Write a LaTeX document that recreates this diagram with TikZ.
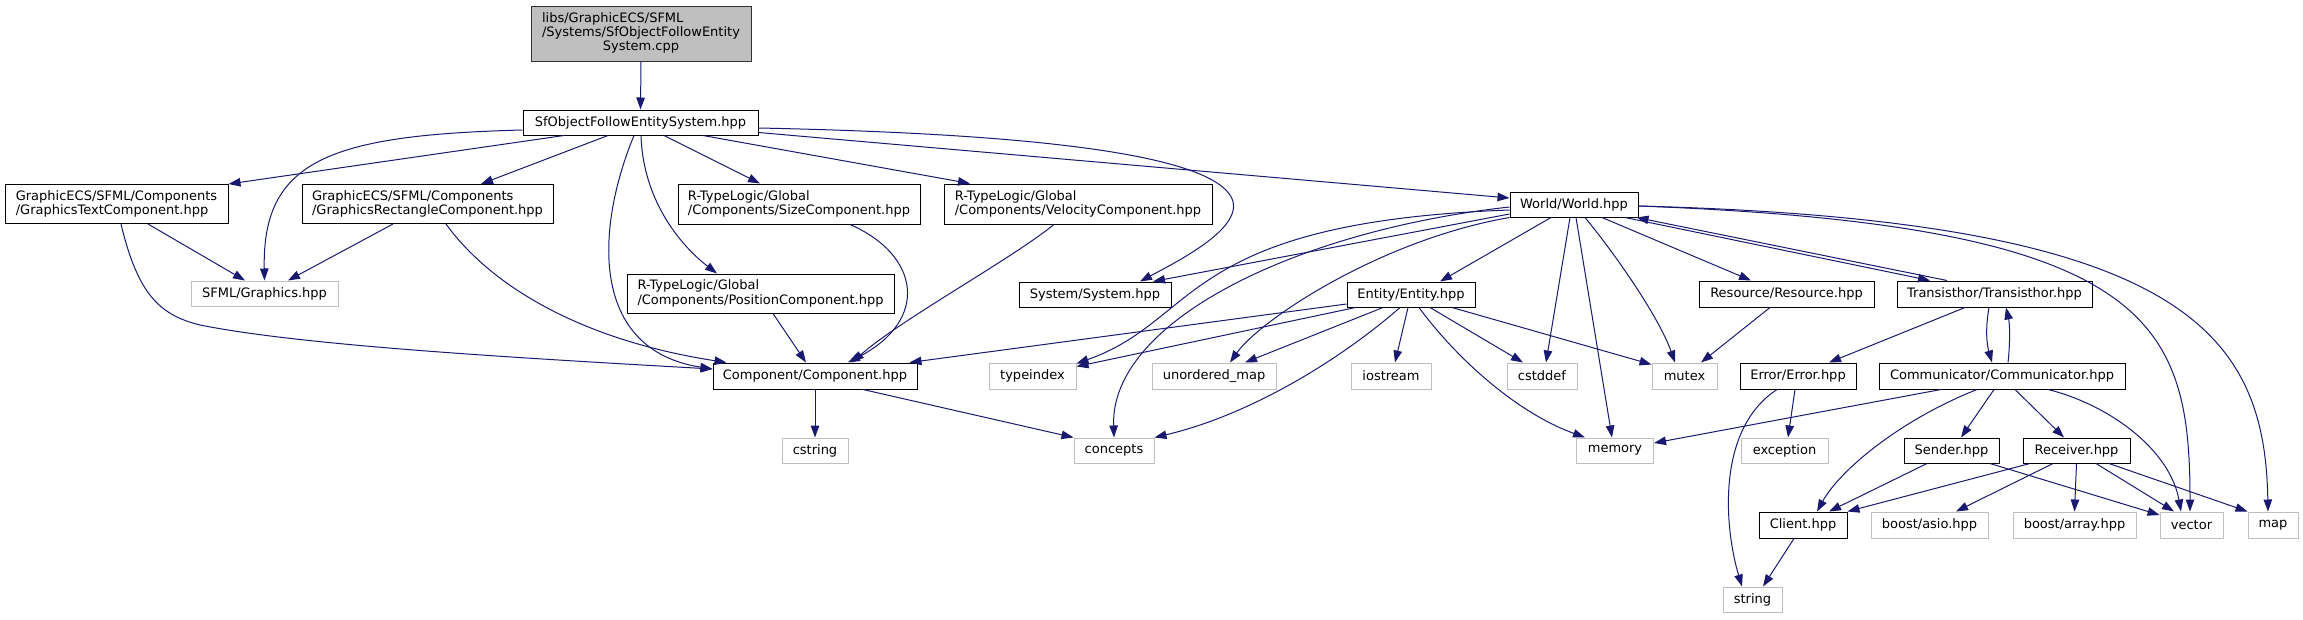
\documentclass[tikz,border=0pt]{standalone}
\usepackage{fontspec}
\setmainfont{DejaVu Sans}
\usepackage{xcolor}
\usepackage{tikz}
\usetikzlibrary{arrows.meta}

\definecolor{midnightblue}{HTML}{191970}
\newcommand{\doxfont}{\fontsize{13}{14.3}\selectfont}

\begin{document}
\begin{tikzpicture}[x=1pt, y=-1pt, >={Triangle[length=12pt, width=8.5pt]},
  incl/.style={draw=black, line width=1pt, fill=white, inner sep=3pt, font=\doxfont},
  stdh/.style={draw=black!25, line width=1pt, fill=white, inner sep=3pt, font=\doxfont},
  rootnode/.style={incl, fill=black!25, draw=black!80},
  dep/.style={->, midnightblue, line width=1pt}
]
  \useasboundingbox (0,0) rectangle (2303,619);

  % ======= nodes: project headers =======
  \node[rootnode, minimum width=220pt, minimum height=55pt] (root) at (641,33.5)
    {\begin{tabular}{@{}l@{}}libs/GraphicECS/SFML\\/Systems/SfObjectFollowEntity\\\multicolumn{1}{@{}c@{}}{System.cpp}\end{tabular}};
  \node[incl, minimum width=235pt, minimum height=25pt] (sfo) at (640.5,122.5) {SfObjectFollowEntitySystem.hpp};
  \node[incl, align=left, minimum width=223pt, minimum height=39pt] (gtc) at (116.5,204) {GraphicECS/SFML/Components\\/GraphicsTextComponent.hpp};
  \node[incl, align=left, minimum width=251pt, minimum height=39pt] (grc) at (427.5,204) {GraphicECS/SFML/Components\\/GraphicsRectangleComponent.hpp};
  \node[incl, align=left, minimum width=242pt, minimum height=40pt] (size) at (799,204) {R-TypeLogic/Global\\/Components/SizeComponent.hpp};
  \node[incl, align=left, minimum width=267pt, minimum height=39pt] (pos) at (760.5,293.5) {R-TypeLogic/Global\\/Components/PositionComponent.hpp};
  \node[incl, align=left, minimum width=268pt, minimum height=40pt] (vel) at (1078,204) {R-TypeLogic/Global\\/Components/VelocityComponent.hpp};
  \node[incl, minimum width=128pt, minimum height=25pt] (world) at (1574,204.5) {World/World.hpp};
  \node[incl, minimum width=152pt, minimum height=25pt] (system) at (1095,294.5) {System/System.hpp};
  \node[incl, minimum width=128pt, minimum height=25pt] (entity) at (1411,294.5) {Entity/Entity.hpp};
  \node[incl, minimum width=204pt, minimum height=26pt] (comp) at (815,376) {Component/Component.hpp};
  \node[incl, minimum width=175pt, minimum height=26pt] (resource) at (1786.5,294) {Resource/Resource.hpp};
  \node[incl, minimum width=195pt, minimum height=26pt] (trans) at (1994.5,294) {Transisthor/Transisthor.hpp};
  \node[incl, minimum width=116pt, minimum height=26pt] (error) at (1798,376) {Error/Error.hpp};
  \node[incl, minimum width=246pt, minimum height=26pt] (comm) at (2002,376) {Communicator/Communicator.hpp};
  \node[incl, minimum width=95pt, minimum height=25pt] (sender) at (1951.5,450.5) {Sender.hpp};
  \node[incl, minimum width=107pt, minimum height=25pt] (receiver) at (2076.5,450.5) {Receiver.hpp};
  \node[incl, minimum width=88pt, minimum height=26pt] (client) at (1803,525) {Client.hpp};

  % ======= nodes: system headers =======
  \node[stdh, minimum width=147pt, minimum height=25pt] (sfmlg) at (264.5,293.5) {SFML/Graphics.hpp};
  \node[stdh, minimum width=87pt, minimum height=26pt] (tidx) at (1032.5,376) {typeindex};
  \node[stdh, minimum width=124pt, minimum height=26pt] (umap) at (1214,376) {unordered\_map};
  \node[stdh, minimum width=80pt, minimum height=26pt] (iostr) at (1391,376) {iostream};
  \node[stdh, minimum width=70pt, minimum height=26pt] (cstddef) at (1542,376) {cstddef};
  \node[stdh, minimum width=65pt, minimum height=26pt] (mutex) at (1684.5,376) {mutex};
  \node[stdh, minimum width=66pt, minimum height=25pt] (cstring) at (815,450.5) {cstring};
  \node[stdh, minimum width=80pt, minimum height=25pt] (concepts) at (1114,450.5) {concepts};
  \node[stdh, minimum width=77pt, minimum height=25pt] (memory) at (1615,450.5) {memory};
  \node[stdh, minimum width=87pt, minimum height=25pt] (exception) at (1784.5,450.5) {exception};
  \node[stdh, minimum width=117pt, minimum height=26pt] (asio) at (1929.5,525) {boost/asio.hpp};
  \node[stdh, minimum width=123pt, minimum height=26pt] (array) at (2074.5,525) {boost/array.hpp};
  \node[stdh, minimum width=63pt, minimum height=26pt] (vector) at (2191.5,525) {vector};
  \node[stdh, minimum width=50pt, minimum height=26pt] (map) at (2273,525) {map};
  \node[stdh, minimum width=59pt, minimum height=25pt] (string) at (1752.5,599.5) {string};

  % ======= edges from the top =======
  \draw[dep] (root.south) -- (sfo.north);
  \draw[dep] ([xshift=-76.5pt]sfo.south) -- (gtc.north east);
  \draw[dep] ([yshift=-7.5pt]sfo.west) .. controls (330,135) and (262,160) .. (sfmlg.north);
  \draw[dep] ([xshift=-32.5pt]sfo.south) -- ([xshift=53.5pt]grc.north);
  \draw[dep] ([xshift=23.5pt]sfo.south) -- ([xshift=-39pt]size.north);
  \draw[dep] ([xshift=0.5pt]sfo.south) .. controls (643,200) and (680,245) .. ([xshift=-43.5pt]pos.north);
  \draw[dep] ([xshift=-6.5pt]sfo.south) .. controls (595,230) and (590,350) .. ([yshift=7pt]comp.west);
  \draw[dep] ([yshift=-5.5pt]sfo.east) .. controls (1000,133) and (1200,150) .. (1230,195)
    .. controls (1250,225) and (1180,260) .. ([xshift=45pt]system.north);
  \draw[dep] ([xshift=62.5pt]sfo.south) -- ([xshift=-108pt]vel.north);
  \draw[dep] ([yshift=-10pt]sfo.east) -- ([yshift=6.5pt]world.west);

  % components
  \draw[dep] ([xshift=31.5pt]gtc.south) -- ([xshift=-19.5pt]sfmlg.north);
  \draw[dep] ([xshift=4.5pt]gtc.south) .. controls (138,295) and (160,315) .. (200,325)
    .. controls (300,345) and (500,357) .. ([yshift=7pt]comp.west);
  \draw[dep] ([xshift=-34.5pt]grc.south) -- ([xshift=23.5pt]sfmlg.north);
  \draw[dep] ([xshift=18.5pt]grc.south) .. controls (490,285) and (580,340) .. ([xshift=14pt]comp.north west);
  \draw[dep] ([xshift=51pt]size.south) .. controls (920,255) and (930,320) .. ([xshift=33pt]comp.north);
  \draw[dep] ([xshift=-24pt]vel.south) .. controls (1010,260) and (900,320) .. ([xshift=37pt]comp.north);
  \draw[dep] ([xshift=12.5pt]pos.south) -- ([xshift=-9pt]comp.north);
  \draw[dep] (comp.south) -- (cstring.north);
  \draw[dep] ([xshift=48pt]comp.south) -- (concepts.north west);

  % ======= World =======
  \draw[dep] ([yshift=-9.5pt]world.west) -- ([xshift=58pt]system.north);
  \draw[dep] ([yshift=-5.5pt]world.west) .. controls (1180,222) and (1200,320) .. ([yshift=-1pt]tidx.north east);
  \draw[dep] (world.south west) .. controls (1380,240) and (1260,320) .. ([xshift=16pt]umap.north);
  \draw[dep] ([yshift=-2.5pt]world.west) .. controls (1300,230) and (1110,320) .. (concepts.north);
  \draw[dep] ([xshift=-23pt]world.south) -- ([xshift=29pt]entity.north);
  \draw[dep] ([xshift=-4pt]world.south) -- ([xshift=4pt]cstddef.north);
  \draw[dep] ([xshift=2pt]world.south) -- ([xshift=-3pt]memory.north);
  \draw[dep] ([xshift=11pt]world.south) .. controls (1620,260) and (1660,320) .. ([xshift=-9.5pt]mutex.north);
  \draw[dep] ([xshift=28pt]world.south) -- ([xshift=-35.5pt]resource.north);
  \draw[dep] ([xshift=51pt]world.south) -- ([xshift=-64.5pt]trans.north);
  \draw[dep] ([xshift=-47.5pt]trans.north) -- ([xshift=-2pt]world.south east);
  \draw[dep] ([yshift=-1.5pt]world.east) .. controls (2150,225) and (2190,320) .. ([xshift=-1.5pt]vector.north);
  \draw[dep] ([yshift=-1.5pt]world.east) .. controls (2180,220) and (2265,330) .. ([xshift=-5pt]map.north);

  % ======= Entity =======
  \draw[dep] ([yshift=-9.5pt]entity.west) -- ([xshift=-8pt]comp.north east);
  \draw[dep] ([xshift=9pt]entity.south west) -- ([yshift=-4pt]tidx.north east);
  \draw[dep] ([xshift=-28pt]entity.south) -- ([xshift=31pt]umap.north);
  \draw[dep] ([xshift=-11pt]entity.south) .. controls (1340,360) and (1250,415) .. (concepts.north east);
  \draw[dep] ([xshift=-3pt]entity.south) -- ([xshift=4pt]iostr.north);
  \draw[dep] ([xshift=8pt]entity.south) .. controls (1450,350) and (1510,410) .. ([xshift=9pt]memory.north west);
  \draw[dep] ([xshift=19pt]entity.south) -- ([xshift=-19pt]cstddef.north);
  \draw[dep] ([xshift=41pt]entity.south) -- ([yshift=-2pt]mutex.north west);

  % ======= Resource / Transisthor / Communicator =======
  \draw[dep] ([xshift=-16.5pt]resource.south) -- ([xshift=16.5pt]mutex.north);
  \draw[dep] ([xshift=-29.5pt]trans.south) -- ([xshift=31pt]error.north);
  \draw[dep] ([xshift=-5.5pt]trans.south) .. controls (1985,330) and (1987,345) .. ([xshift=-10pt]comm.north);
  \draw[dep] ([xshift=6pt]comm.north) .. controls (2010,345) and (2010,325) .. ([xshift=11.5pt]trans.south);
  \draw[dep] ([xshift=-61pt]comm.south) -- ([yshift=7.5pt]memory.east);
  \draw[dep] ([xshift=-25pt]comm.south) .. controls (1900,420) and (1840,470) .. ([xshift=14pt]client.north);
  \draw[dep] ([xshift=-8pt]comm.south) -- ([xshift=9.5pt]sender.north);
  \draw[dep] ([xshift=13pt]comm.south) -- ([xshift=-12.5pt]receiver.north);
  \draw[dep] ([xshift=46pt]comm.south) .. controls (2110,405) and (2170,450) .. ([xshift=-10.5pt]vector.north);
  \draw[dep] ([xshift=-3pt]error.south) -- ([xshift=3.5pt]exception.north);
  \draw[dep] ([xshift=-21pt]error.south) .. controls (1715,430) and (1725,530) .. ([xshift=-10.5pt]string.north);

  % ======= network =======
  \draw[dep] ([xshift=-9pt]client.south) -- ([xshift=10.5pt]string.north);
  \draw[dep] ([xshift=-24.5pt]sender.south) -- ([xshift=26pt]client.north);
  \draw[dep] ([xshift=38.5pt]sender.south) -- ([yshift=10pt]vector.west);
  \draw[dep] ([xshift=-46.5pt]receiver.south) -- (client.north east);
  \draw[dep] ([xshift=-23.5pt]receiver.south) -- ([xshift=26.5pt]asio.north);
  \draw[dep] (receiver.south) -- (array.north);
  \draw[dep] ([xshift=19.5pt]receiver.south) -- ([xshift=-17.5pt]vector.north);
  \draw[dep] ([xshift=32.5pt]receiver.south) -- (map.north west);

\end{tikzpicture}
\end{document}
